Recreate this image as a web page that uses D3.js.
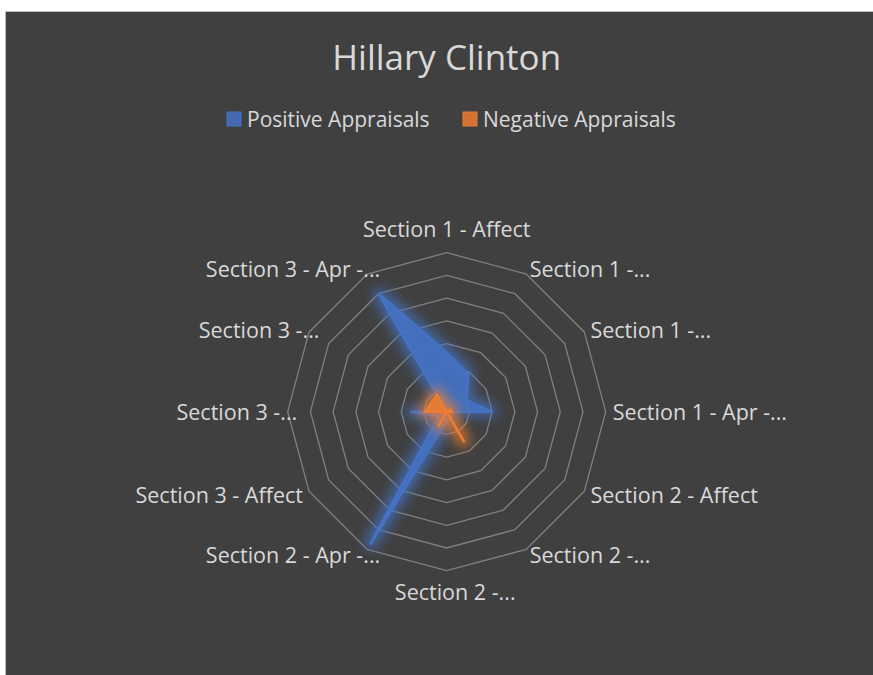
<!DOCTYPE html>
<html>
<head>
<meta charset="utf-8">
<script src="https://cdnjs.cloudflare.com/ajax/libs/d3/7.8.5/d3.min.js"></script>
<style>
	body { margin: 0; background: #ffffff; }
	text { font-family: "Open Sans", "Noto Sans", sans-serif; fill: #d9d9d9; }
</style>
</head>
<body>
<script>

// categories round the radar, clockwise from the top
var categories = ["Section 1 - Affect", "Section 1 -...", "Section 1 -...", "Section 1 - Apr -...",
	"Section 2 - Affect", "Section 2 -...", "Section 2 -...", "Section 2 - Apr -...",
	"Section 3 - Affect", "Section 3 -...", "Section 3 -...", "Section 3 - Apr -..."];

// series values
var positive = [2.6, 1.9, 1.0, 2.0, 0, 0, 0.4, 6.75, 0.4, 1.6, 0, 6.0];
var negative = [0, 0, 0.2, 0.22, 0, 1.56, 0, 0.77, 0, 0.95, 0.78, 0.86];

var seriesNames = ["Positive Appraisals", "Negative Appraisals"];
var ringTicks = [1, 2, 3, 4, 5, 6, 7];

// characteristics for SVG element
var w = 873;
var h = 675;
var cx = 446.7;
var cy = 411.7;
var radius = 159;

var colors = ["#4472c4", "#ed7d31"];

var svg = d3.select("body")
	.append("svg")
	.attr("width", w)
	.attr("height", h);

// chart area
svg.append("rect")
	.attr("x", 5.5)
	.attr("y", 11.5)
	.attr("width", w)
	.attr("height", h)
	.attr("fill", "#404040")
	.attr("stroke", "#bfbfbf")
	.attr("stroke-width", 1);

// soft glow filters round the series
var defs = svg.append("defs");
colors.forEach(function(c, i) {
	var f = defs.append("filter")
		.attr("id", "glow" + i)
		.attr("x", "-50%").attr("y", "-50%")
		.attr("width", "200%").attr("height", "200%");
	f.append("feMorphology")
		.attr("in", "SourceAlpha")
		.attr("operator", "dilate")
		.attr("radius", 4)
		.attr("result", "thick");
	f.append("feGaussianBlur")
		.attr("in", "thick")
		.attr("stdDeviation", 6)
		.attr("result", "blur");
	f.append("feFlood")
		.attr("flood-color", c)
		.attr("flood-opacity", 0.75);
	f.append("feComposite")
		.attr("in2", "blur")
		.attr("operator", "in")
		.attr("result", "halo");
	var merge = f.append("feMerge");
	merge.append("feMergeNode").attr("in", "halo");
	merge.append("feMergeNode").attr("in", "SourceGraphic");
});

// title
svg.append("text")
	.attr("x", cx)
	.attr("y", 56)
	.attr("text-anchor", "middle")
	.attr("dominant-baseline", "central")
	.style("font-size", "35px")
	.text("Hillary Clinton");

// legend
var legendX = [227, 463];
seriesNames.forEach(function(name, i) {
	svg.append("rect")
		.attr("x", legendX[i])
		.attr("y", 112)
		.attr("width", 14)
		.attr("height", 14)
		.attr("fill", colors[i])
		.attr("fill-opacity", 0.85)
		.attr("stroke", colors[i]);
	svg.append("text")
		.attr("x", legendX[i] + 20)
		.attr("y", 119)
		.attr("dominant-baseline", "central")
		.style("font-size", "21px")
		.text(name);
});

// scales
var n = categories.length;
var angle = d3.scaleLinear()
	.domain([0, n])
	.range([0, 2 * Math.PI]);
var r = d3.scaleLinear()
	.domain([0, 7])
	.range([0, radius]);

var g = svg.append("g")
	.attr("transform", "translate(" + cx + "," + cy + ")");

// rings
var ringLine = d3.lineRadial()
	.angle(function(d, i) { return angle(i); })
	.radius(function(d) { return r(d); })
	.curve(d3.curveLinearClosed);

g.selectAll(".ring")
	.data(ringTicks)
	.enter()
	.append("path")
	.attr("class", "ring")
	.attr("d", function(t) { return ringLine(d3.range(n).map(function() { return t; })); })
	.attr("fill", "none")
	.attr("stroke", "#808080")
	.attr("stroke-width", 1.3);

// series areas
[positive, negative].forEach(function(values, i) {
	g.append("path")
		.attr("d", ringLine(values))
		.attr("fill", colors[i])
		.attr("fill-opacity", 0.8)
		.attr("stroke", colors[i])
		.attr("stroke-width", 2.5)
		.attr("stroke-linejoin", "miter")
		.attr("filter", "url(#glow" + i + ")");
});

// category labels (truncated ones keep some trailing room, like excel does)
function anchorOf(i) {
	var s = Math.sin(angle(i));
	if (s > 0.01) return "start";
	if (s < -0.01) return "end";
	return "middle";
}

g.selectAll(".label")
	.data(categories)
	.enter()
	.append("text")
	.attr("class", "label")
	.attr("x", function(d, i) {
		var x = Math.sin(angle(i)) * (radius + 7);
		if (d.slice(-3) == "...") {
			if (anchorOf(i) == "end") x += 16.5;
			if (anchorOf(i) == "middle") x += 8.5;
		}
		return x;
	})
	.attr("y", function(d, i) {
		var y = -Math.cos(angle(i)) * (radius + 6);
		if (i == 0) y -= 18;
		if (i == n / 2) y += 15;
		return y;
	})
	.attr("text-anchor", function(d, i) { return anchorOf(i); })
	.attr("dominant-baseline", "central")
	.style("font-size", "21.5px")
	.text(function(d) { return d; });

</script>
</body>
</html>
